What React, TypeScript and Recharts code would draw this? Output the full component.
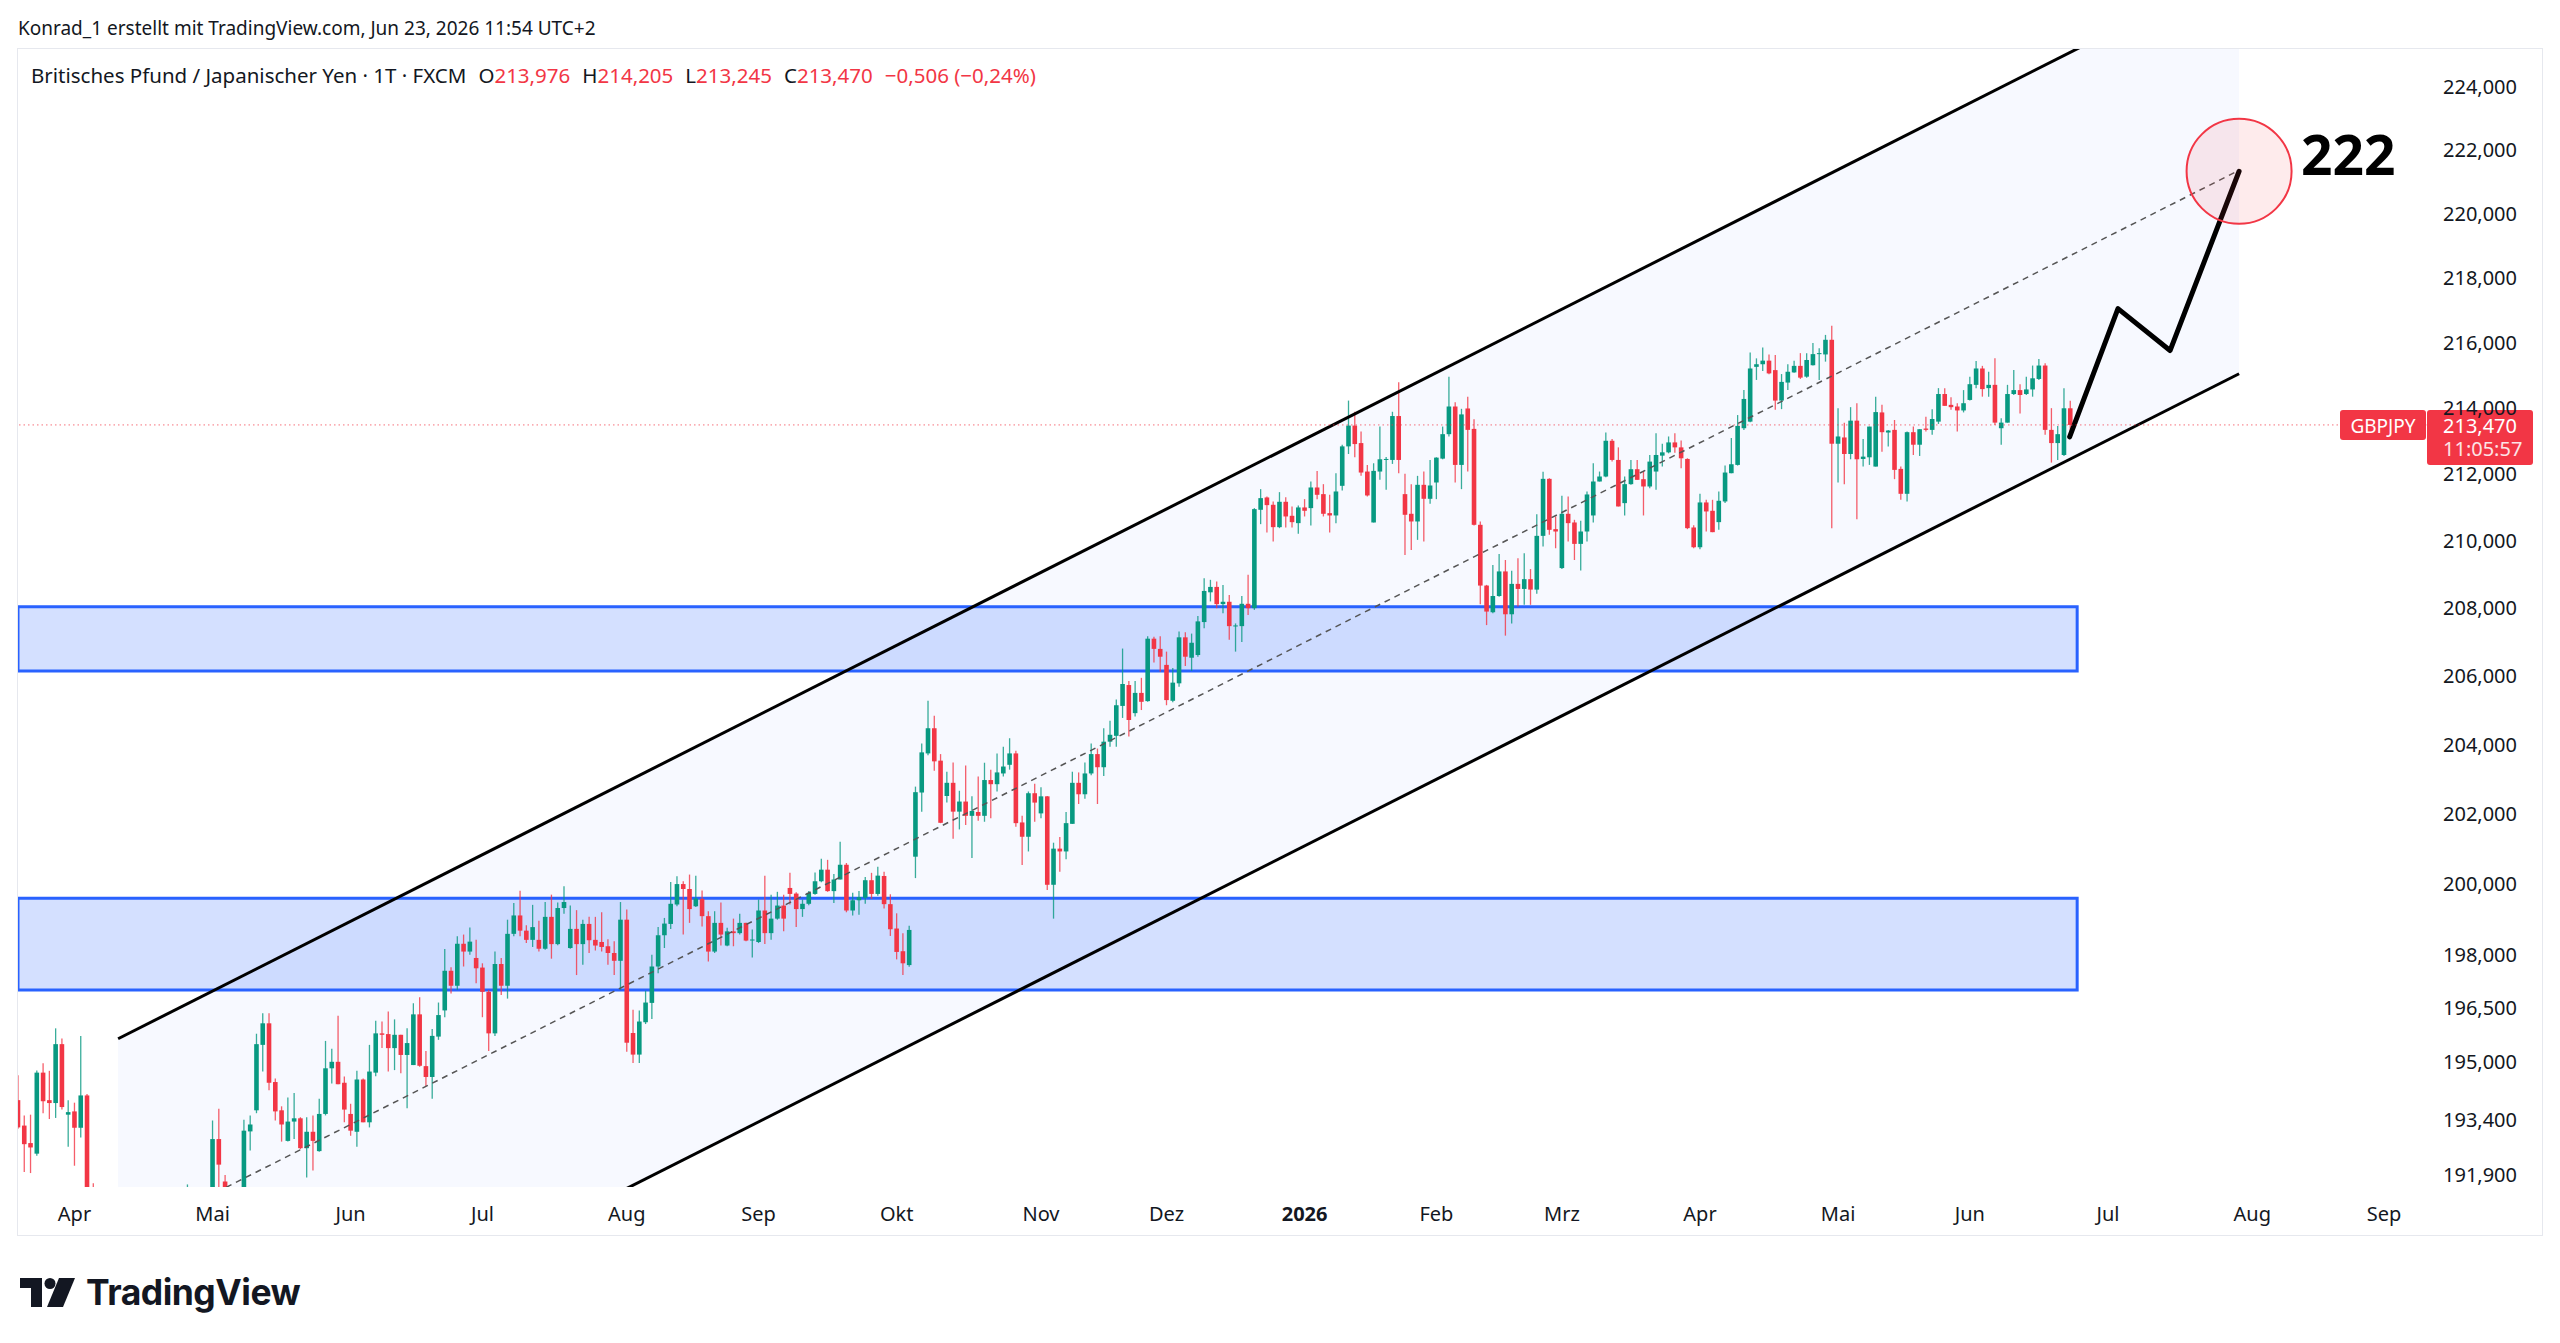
import React from 'react';
import { Area, Bar, ComposedChart, Line, ReferenceArea, ReferenceDot, ReferenceLine, XAxis, YAxis } from 'recharts';

// daily GBPJPY candles [open, high, low, close], first bar = 19 Mar 2025
const ohlc: [number, number, number, number][] = [
  [193.93, 194.62, 193.14, 193.18], [193.23, 193.51, 191.96, 192.72], [192.75, 193.53, 191.93, 192.63], [192.46, 194.75, 192.4, 194.69],
  [194.69, 194.95, 193.57, 193.9], [193.93, 194.74, 193.41, 193.85], [193.85, 195.92, 193.44, 195.48], [195.48, 195.64, 193.67, 193.74],
  [193.53, 193.93, 192.65, 193.6], [193.62, 193.86, 192.13, 193.17], [193.17, 195.71, 192.9, 194.06], [194.06, 194.1, 190.3, 191.0],
  [191.0, 191.65, 188.3, 188.6], [188.3, 189.8, 185.6, 188.9], [188.9, 191.3, 188.6, 189.8], [189.8, 190.6, 184.4, 189.0],
  [189.0, 189.5, 186.2, 187.4], [187.4, 189.0, 186.6, 188.2], [188.2, 189.6, 187.6, 189.2], [189.2, 190.4, 188.9, 189.6],
  [189.6, 190.0, 187.8, 188.0], [188.0, 189.4, 187.7, 188.9], [188.9, 189.2, 188.3, 188.6], [188.6, 188.9, 187.0, 187.6],
  [187.6, 188.9, 187.2, 188.6], [188.6, 190.6, 188.4, 190.6], [190.6, 191.0, 189.3, 190.2], [190.2, 191.62, 189.9, 191.0],
  [191.0, 191.4, 190.2, 190.5], [190.5, 191.0, 189.6, 190.1], [190.1, 191.3, 189.8, 191.1], [191.1, 193.37, 190.9, 192.86],
  [192.86, 193.69, 191.3, 192.16], [191.7, 191.88, 190.6, 190.9], [190.9, 191.4, 189.9, 190.4], [190.4, 191.3, 190.0, 191.0],
  [191.0, 193.39, 190.8, 193.09], [193.07, 193.51, 192.55, 193.26], [193.65, 195.77, 193.57, 195.48], [195.46, 196.34, 194.72, 196.06],
  [196.06, 196.34, 194.2, 194.41], [194.43, 194.53, 193.37, 193.62], [193.65, 193.76, 192.79, 193.26], [192.81, 194.0, 192.79, 193.34],
  [193.34, 194.13, 192.86, 193.43], [193.43, 193.46, 192.58, 192.61], [192.61, 193.46, 191.81, 193.06], [193.06, 193.51, 192.0, 192.81],
  [192.53, 193.97, 192.51, 193.55], [193.55, 195.57, 193.51, 194.81], [194.81, 195.35, 194.39, 194.99], [194.99, 196.27, 194.37, 194.37],
  [194.41, 194.58, 193.32, 193.67], [193.55, 193.83, 192.95, 193.09], [193.06, 194.74, 192.65, 194.5], [194.5, 194.53, 193.32, 193.32],
  [193.32, 195.46, 193.18, 194.72], [194.69, 196.13, 194.59, 195.78], [195.78, 196.11, 195.37, 195.74], [195.76, 196.39, 194.72, 195.37],
  [195.37, 196.17, 194.76, 195.74], [195.74, 195.74, 194.67, 195.18], [195.18, 195.92, 193.71, 195.51], [194.9, 196.62, 194.9, 196.31],
  [196.31, 196.79, 194.85, 194.88], [194.87, 195.29, 194.32, 194.57], [194.57, 195.9, 193.97, 195.71], [195.69, 196.64, 195.6, 196.29],
  [196.42, 198.14, 196.23, 197.53], [197.53, 197.63, 196.89, 197.11], [197.11, 198.5, 196.99, 198.29], [198.29, 198.55, 197.65, 198.07],
  [198.07, 198.75, 197.98, 198.35], [197.89, 198.4, 197.18, 197.6], [197.62, 197.74, 196.23, 196.94], [196.94, 196.99, 195.29, 195.78],
  [195.78, 198.07, 195.71, 197.72], [197.72, 197.89, 196.85, 197.11], [197.11, 198.97, 196.75, 198.57], [198.57, 199.44, 198.5, 199.09],
  [199.09, 199.79, 198.5, 198.66], [198.66, 198.81, 198.31, 198.4], [198.4, 199.39, 198.2, 198.76], [198.4, 198.94, 198.07, 198.15],
  [198.15, 199.47, 198.12, 199.05], [199.05, 199.68, 197.87, 198.28], [198.28, 199.46, 198.25, 199.3], [199.3, 199.92, 199.14, 199.47],
  [198.17, 199.37, 198.15, 198.71], [198.71, 199.24, 197.41, 198.28], [198.28, 198.97, 197.7, 198.85], [198.85, 199.05, 198.03, 198.39],
  [198.4, 199.05, 198.1, 198.24], [198.34, 199.18, 198.07, 198.2], [198.22, 198.42, 197.7, 198.03], [198.03, 198.36, 197.41, 197.81],
  [197.81, 199.47, 196.99, 198.97], [198.97, 199.26, 195.27, 195.52], [195.79, 196.44, 194.96, 195.19], [195.19, 196.42, 194.96, 196.11],
  [196.09, 196.97, 196.04, 196.64], [196.63, 197.98, 196.18, 197.65], [197.65, 198.76, 197.46, 198.53], [198.53, 199.02, 198.17, 198.86],
  [198.85, 200.04, 198.71, 199.42], [199.4, 200.2, 199.35, 199.98], [199.98, 200.06, 198.55, 199.84], [199.84, 200.25, 198.88, 199.27],
  [199.35, 200.22, 199.33, 199.57], [199.56, 199.8, 198.78, 199.07], [199.07, 199.21, 197.79, 198.07], [198.07, 199.21, 198.03, 198.88],
  [198.88, 199.46, 198.24, 198.55], [198.24, 198.74, 198.22, 198.64], [198.64, 199.0, 198.22, 198.59], [198.59, 199.14, 198.55, 198.88],
  [198.88, 198.88, 198.36, 198.38], [198.39, 198.69, 197.9, 198.41], [198.34, 199.54, 198.31, 199.23], [199.23, 200.22, 198.28, 198.59],
  [198.59, 199.68, 198.4, 199.0], [199.0, 199.76, 198.97, 199.37], [199.37, 199.68, 198.64, 199.0], [199.87, 200.3, 199.4, 199.7],
  [199.71, 199.75, 198.76, 199.27], [199.27, 199.54, 199.05, 199.42], [199.42, 199.78, 199.38, 199.73], [199.7, 200.31, 199.68, 200.06],
  [200.06, 200.7, 200.03, 200.39], [200.39, 200.67, 199.76, 199.78], [199.78, 200.27, 199.44, 200.11], [200.11, 201.19, 200.11, 200.53],
  [200.53, 200.58, 199.18, 199.23], [199.23, 199.73, 199.09, 199.52], [199.52, 199.78, 199.11, 199.61], [199.59, 200.18, 199.42, 200.09],
  [200.09, 200.3, 199.56, 199.7], [199.7, 200.47, 199.65, 200.22], [200.21, 200.33, 199.29, 199.41], [199.41, 199.69, 198.51, 198.7],
  [198.72, 199.15, 197.85, 198.06], [198.08, 198.59, 197.41, 197.74], [197.69, 198.8, 197.64, 198.68], [200.76, 202.77, 200.15, 202.61],
  [202.6, 204.02, 202.05, 203.76], [203.73, 205.26, 203.68, 204.46], [204.46, 204.82, 203.23, 203.5], [203.52, 203.71, 201.72, 201.73],
  [202.5, 203.2, 202.31, 202.88], [202.88, 203.47, 201.27, 202.05], [202.05, 202.65, 201.54, 202.34], [202.34, 203.38, 201.67, 201.93],
  [201.93, 202.49, 200.72, 202.07], [202.04, 203.06, 201.79, 201.93], [201.93, 203.46, 201.76, 202.96], [202.96, 203.26, 201.86, 202.84],
  [202.84, 203.73, 202.63, 203.18], [203.15, 203.92, 203.06, 203.35], [203.4, 204.17, 203.26, 203.73], [203.73, 203.81, 201.62, 201.72],
  [201.74, 201.93, 200.52, 201.33], [201.33, 202.63, 200.91, 202.58], [202.58, 202.85, 201.76, 202.31], [202.0, 202.75, 201.86, 202.49],
  [202.49, 202.5, 199.81, 199.96], [199.96, 201.16, 199.0, 200.99], [200.99, 201.32, 200.33, 200.91], [200.91, 202.04, 200.69, 201.72],
  [201.7, 203.2, 201.7, 202.88], [202.88, 203.18, 202.27, 202.55], [202.55, 203.47, 202.42, 203.15], [203.15, 204.02, 203.1, 203.71],
  [203.71, 203.87, 202.27, 203.33], [203.33, 204.46, 203.08, 204.07], [204.07, 204.68, 203.92, 204.27], [204.24, 205.3, 203.92, 205.13],
  [205.11, 206.79, 204.76, 205.75], [205.72, 205.84, 204.22, 204.7], [204.9, 205.84, 204.8, 205.49], [205.49, 205.93, 204.99, 205.23],
  [205.25, 207.15, 205.23, 207.08], [207.08, 207.14, 206.38, 206.78], [206.78, 207.15, 206.11, 206.55], [206.31, 206.7, 205.13, 205.28],
  [205.26, 206.22, 205.22, 205.79], [205.77, 207.29, 205.67, 207.12], [207.12, 207.27, 206.28, 206.55], [206.52, 207.23, 206.13, 206.96],
  [206.6, 207.75, 206.55, 207.59], [207.57, 208.87, 207.39, 208.49], [208.45, 208.82, 208.18, 208.61], [208.61, 208.77, 207.98, 208.1],
  [208.1, 208.67, 207.83, 208.17], [208.17, 208.37, 207.05, 207.45], [207.45, 207.53, 206.7, 207.47], [207.45, 208.34, 206.98, 208.11],
  [208.11, 208.97, 207.78, 207.98], [207.98, 210.96, 207.93, 210.93], [210.91, 211.53, 210.48, 211.26], [211.28, 211.31, 210.23, 211.05],
  [211.06, 211.16, 209.96, 210.39], [210.39, 211.44, 210.36, 211.15], [211.15, 211.29, 210.38, 210.71], [210.73, 211.01, 210.38, 210.54],
  [210.51, 211.04, 210.19, 210.98], [210.98, 211.23, 210.71, 210.88], [210.96, 211.76, 210.44, 211.58], [211.58, 212.08, 211.23, 211.36],
  [211.38, 211.68, 210.71, 210.79], [210.81, 211.36, 210.23, 210.74], [210.74, 212.01, 210.51, 211.46], [211.63, 212.87, 211.49, 212.82],
  [212.82, 214.21, 212.59, 213.45], [213.45, 213.87, 212.49, 212.89], [212.92, 213.27, 211.93, 212.03], [212.06, 212.26, 211.31, 211.34],
  [210.53, 212.31, 210.53, 212.08], [212.06, 213.42, 211.81, 212.43], [212.43, 212.5, 211.51, 212.44], [212.41, 213.87, 212.29, 213.74],
  [213.74, 214.77, 212.01, 212.41], [211.38, 211.99, 209.56, 210.76], [210.79, 211.68, 209.71, 210.56], [210.56, 211.93, 210.01, 211.66],
  [211.66, 212.06, 209.96, 211.24], [211.24, 212.41, 211.09, 211.64], [211.73, 212.49, 211.23, 212.48], [212.45, 213.42, 212.43, 213.19],
  [213.19, 214.94, 213.12, 214.03], [214.03, 214.16, 211.73, 212.26], [212.26, 213.96, 211.53, 213.79], [213.97, 214.33, 212.06, 213.32],
  [213.35, 213.64, 210.44, 210.46], [210.46, 210.56, 208.1, 208.65], [208.65, 208.67, 207.48, 207.88], [207.86, 209.26, 207.83, 208.34],
  [208.34, 209.59, 208.32, 209.07], [209.07, 209.41, 207.17, 207.8], [207.8, 209.09, 207.53, 208.7], [208.7, 209.46, 208.03, 208.55],
  [208.55, 209.61, 208.08, 208.84], [208.84, 209.14, 208.08, 208.53], [208.53, 210.78, 208.41, 210.13], [210.13, 212.05, 209.81, 211.84],
  [211.84, 211.86, 210.16, 210.31], [210.33, 210.71, 209.76, 210.26], [209.17, 211.33, 209.14, 210.79], [210.79, 211.31, 209.96, 210.51],
  [210.53, 210.61, 209.41, 209.89], [209.89, 210.58, 209.1, 210.26], [210.26, 211.46, 209.96, 211.37], [210.74, 212.31, 210.53, 211.76],
  [211.76, 212.06, 211.76, 211.91], [211.91, 213.24, 211.89, 212.99], [212.99, 213.04, 212.36, 212.41], [212.41, 212.79, 211.01, 211.01],
  [211.11, 211.91, 210.74, 211.68], [211.68, 212.41, 211.66, 212.13], [212.13, 212.41, 211.81, 211.81], [211.83, 212.08, 210.74, 211.61],
  [211.61, 212.56, 211.56, 212.36], [212.06, 213.22, 211.51, 212.56], [212.54, 212.9, 212.21, 212.64], [212.64, 213.12, 212.61, 212.94],
  [212.94, 213.22, 212.63, 212.79], [212.79, 213.0, 212.16, 212.46], [212.44, 212.46, 210.33, 210.36], [210.38, 210.45, 209.76, 209.79],
  [209.79, 211.39, 209.73, 211.13], [211.13, 211.21, 210.26, 210.86], [210.88, 211.21, 210.24, 210.24], [210.54, 211.46, 210.31, 211.18],
  [211.16, 212.24, 211.11, 212.03], [212.01, 213.07, 212.01, 212.28], [212.26, 213.77, 212.24, 213.44], [213.37, 214.53, 213.32, 214.26],
  [213.57, 215.68, 213.55, 215.19], [215.24, 215.5, 214.84, 215.32], [215.32, 215.83, 215.11, 215.43], [215.43, 215.62, 215.01, 215.04],
  [215.14, 215.6, 213.93, 214.21], [214.21, 215.02, 213.95, 214.78], [214.76, 215.32, 214.53, 215.09], [215.07, 215.43, 215.06, 215.27],
  [215.27, 215.66, 214.87, 214.91], [214.94, 215.66, 214.91, 215.45], [215.29, 215.97, 215.28, 215.63], [215.63, 215.81, 214.84, 215.66],
  [215.62, 216.22, 215.4, 216.07], [216.07, 216.5, 210.36, 212.9], [212.9, 213.98, 211.73, 213.12], [213.09, 213.54, 211.68, 212.59],
  [212.59, 214.01, 212.43, 213.6], [213.6, 214.13, 210.63, 212.43], [212.44, 213.04, 212.21, 212.51], [212.49, 213.42, 212.26, 213.42],
  [212.21, 214.33, 212.21, 213.86], [213.85, 214.08, 212.66, 213.25], [213.24, 213.32, 212.82, 213.3], [213.32, 213.62, 211.83, 212.11],
  [212.14, 212.21, 211.21, 211.39], [211.39, 213.27, 211.16, 213.25], [213.25, 213.42, 212.56, 212.87], [212.87, 213.34, 212.53, 213.34],
  [213.36, 213.72, 213.27, 213.32], [213.32, 213.95, 213.17, 213.65], [213.57, 214.59, 213.5, 214.41], [214.41, 214.59, 214.05, 214.05],
  [214.08, 214.31, 213.93, 214.01], [214.03, 214.13, 213.27, 213.91], [213.91, 214.53, 213.85, 214.13], [214.23, 214.94, 214.21, 214.71],
  [214.69, 215.42, 214.59, 215.19], [215.19, 215.27, 214.33, 214.56], [214.59, 215.09, 214.33, 214.69], [214.69, 215.5, 213.47, 213.54],
  [213.37, 213.67, 212.87, 213.54], [213.54, 214.69, 213.54, 214.41], [214.41, 215.14, 214.38, 214.53], [214.53, 214.71, 213.82, 214.38],
  [214.41, 214.94, 214.38, 214.55], [214.55, 215.28, 214.33, 214.89], [214.87, 215.48, 214.84, 215.28], [215.28, 215.35, 213.17, 213.32],
  [213.32, 213.98, 212.33, 212.92], [212.92, 213.44, 212.41, 213.19], [212.56, 214.59, 212.53, 213.976], [213.976, 214.205, 213.245, 213.47],
];

// month ticks: bar index of the first trading day + label
const monthTicks = [9, 31, 53, 74, 97, 118, 140, 163, 183, 205, 226, 246, 268, 290, 311, 333, 356, 377];
const monthLabels = ['Apr', 'Mai', 'Jun', 'Jul', 'Aug', 'Sep', 'Okt', 'Nov', 'Dez', '2026', 'Feb', 'Mrz', 'Apr', 'Mai', 'Jun', 'Jul', 'Aug', 'Sep'];
const priceTicks = [191.9, 193.4, 195, 196.5, 198, 200, 202, 204, 206, 208, 210, 212, 214, 216, 218, 220, 222, 224];

// drawings (bar index / price)
const channelIdx = [15.95, 353.9];
const channelUpper = [195.63, 227.83];
const channelLower = [184.64, 215.03];
const channelMid = [190.06, 221.34];
const zoneUpper = [206.13, 208.02];
const zoneLower = [196.99, 199.58];
const zoneEndIdx = 328.1;
const pathIdx = [326.9, 334.6, 342.9, 353.9];
const pathPrice = [213.11, 217.03, 215.74, 221.31];
const target = { i: 353.9, v: 221.31, label: '222' };
const change = '−0,506 (−0,24%)';

const UP = '#089981';
const DOWN = '#f23645';
const FONT = "'Noto Sans', sans-serif";
const TEXT = '#131722';

const fmt = (v: number) => v.toFixed(3).replace('.', ',');

const data = ohlc.map(([o, h, l, c], i) => ({ i, o, h, l, c, range: [l, h] }));
const bandData = channelIdx.map((i, k) => ({ i, band: [channelLower[k], channelUpper[k]] }));
const upperData = channelIdx.map((i, k) => ({ i, v: channelUpper[k] }));
const lowerData = channelIdx.map((i, k) => ({ i, v: channelLower[k] }));
const midData = channelIdx.map((i, k) => ({ i, v: channelMid[k] }));
const pathData = pathIdx.map((i, k) => ({ i, v: pathPrice[k] }));
const last = ohlc[ohlc.length - 1];

function Candle(props: any) {
  const { x, y, width, height, payload } = props;
  if (!payload || x == null || y == null) return null;
  const { o, h, l, c } = payload;
  const cx = x + width / 2;
  const lh = Math.log(h);
  const span = lh - Math.log(l);
  const py = (v: number) => (span > 0 ? y + (height * (lh - Math.log(v))) / span : y);
  const col = c >= o ? UP : DOWN;
  const top = py(Math.max(o, c));
  const bh = Math.max(1, py(Math.min(o, c)) - top);
  return (
    <g>
      <line x1={cx} x2={cx} y1={y} y2={y + height} stroke={col} strokeWidth={1.3} strokeOpacity={0.8} />
      <rect x={cx - 2.3} y={top} width={4.6} height={bh} fill={col} />
    </g>
  );
}

function XTick(props: any) {
  const { x, y, payload } = props;
  const label = monthLabels[monthTicks.indexOf(payload.value)] ?? '';
  return (
    <text x={x} y={y + 26} textAnchor="middle" dominantBaseline="central" fontSize={20} fontFamily={FONT}
      fontWeight={label === '2026' ? 700 : 400} fill={TEXT}>
      {label}
    </text>
  );
}

function YTick(props: any) {
  const { x, y, payload } = props;
  return (
    <text x={x + 15} y={y} dominantBaseline="central" fontSize={20} fontFamily={FONT} fill={TEXT}>
      {fmt(payload.value)}
    </text>
  );
}

function PriceTag(props: any) {
  const vb = props.viewBox;
  if (!vb) return null;
  const right = vb.x + vb.width;
  const cy = vb.y;
  return (
    <g fontFamily={FONT}>
      <rect x={right - 88} y={cy - 15} width={86} height={30} rx={3} fill={DOWN} />
      <text x={right - 45} y={cy + 1} textAnchor="middle" dominantBaseline="central" fontSize={19} fill="#fff">GBPJPY</text>
      <rect x={right - 1} y={cy - 15} width={106} height={55} rx={3} fill={DOWN} />
      <text x={right + 15} y={cy + 1} dominantBaseline="central" fontSize={20} fill="#fff">{fmt(last[3])}</text>
      <text x={right + 15} y={cy + 24} dominantBaseline="central" fontSize={20} fill="#fce4e6">11:05:57</text>
    </g>
  );
}

function Target(props: any) {
  const { cx, cy } = props;
  if (cx == null) return null;
  return (
    <g>
      <circle cx={cx} cy={cy} r={52.5} fill={DOWN} fillOpacity={0.1} stroke={DOWN} strokeWidth={2} />
      <text x={cx + 62} y={cy + 4} fontSize={55} fontWeight={700} fontFamily={FONT} fill="#000">{target.label}</text>
    </g>
  );
}

function Logo() {
  return (
    <div style={{ position: 'absolute', left: 20, top: 1271, display: 'flex', alignItems: 'center', gap: 11 }}>
      <svg width={55} height={29} viewBox="0 0 55 29">
        <path d="M0 0H22V29H11V10H0Z" fill="#131722" />
        <circle cx={30} cy={5.5} r={5.5} fill="#131722" />
        <path d="M39 0H55L43 29H27Z" fill="#131722" />
      </svg>
      <span style={{ fontFamily: 'Inter, sans-serif', fontWeight: 700, fontSize: 35.5, letterSpacing: -0.5, color: '#131722' }}>
        TradingView
      </span>
    </div>
  );
}

export default function App() {
  const ohlcLabel = (k: string, v: number) => (
    <span style={{ marginLeft: 12 }}>
      {k}<span style={{ color: DOWN }}>{fmt(v)}</span>
    </span>
  );
  return (
    <div style={{ position: 'absolute', left: 0, top: 0, width: 2560, height: 1343, background: '#fff', fontFamily: FONT, color: TEXT }}>
      <div style={{ position: 'absolute', left: 18, top: 15, fontSize: 19, lineHeight: '26px' }}>
        Konrad_1 erstellt mit TradingView.com, Jun 23, 2026 11:54 UTC+2
      </div>
      <div style={{ position: 'absolute', left: 17, top: 48, width: 2524, height: 1186, border: '1.5px solid #e6e8ee' }} />
      <div style={{ position: 'absolute', left: 18, top: 49 }}>
        <ComposedChart width={2525} height={1187} data={data} margin={{ top: 0, right: 0, bottom: 0, left: 0 }}>
          <XAxis dataKey="i" type="number" domain={[0, 384]} allowDataOverflow ticks={monthTicks} interval={0}
            axisLine={false} tickLine={false} tickSize={0} tickMargin={0} height={49} tick={<XTick />} />
          <YAxis orientation="right" scale="log" domain={[191.55, 225.19]} allowDataOverflow ticks={priceTicks}
            axisLine={false} tickLine={false} tickSize={0} tickMargin={0} width={115} tick={<YTick />} />
          <Area data={bandData} dataKey="band" type="linear" stroke="none" fill="#2962ff" fillOpacity={0.035}
            dot={false} activeDot={false} isAnimationActive={false} />
          <ReferenceArea x1={0} x2={zoneEndIdx} y1={zoneUpper[0]} y2={zoneUpper[1]} fill="#2962ff" fillOpacity={0.2}
            stroke="#2962ff" strokeWidth={3} ifOverflow="hidden" />
          <ReferenceArea x1={0} x2={zoneEndIdx} y1={zoneLower[0]} y2={zoneLower[1]} fill="#2962ff" fillOpacity={0.2}
            stroke="#2962ff" strokeWidth={3} ifOverflow="hidden" />
          <Line data={midData} dataKey="v" type="linear" stroke="#555" strokeWidth={1.5} strokeDasharray="6 5"
            dot={false} activeDot={false} isAnimationActive={false} />
          <Bar dataKey="range" barSize={5} shape={(p: any) => <Candle {...p} />} isAnimationActive={false} />
          <Line data={upperData} dataKey="v" type="linear" stroke="#000" strokeWidth={3}
            dot={false} activeDot={false} isAnimationActive={false} />
          <Line data={lowerData} dataKey="v" type="linear" stroke="#000" strokeWidth={3}
            dot={false} activeDot={false} isAnimationActive={false} />
          <Line data={pathData} dataKey="v" type="linear" stroke="#000" strokeWidth={5} strokeLinejoin="round"
            strokeLinecap="round" dot={false} activeDot={false} isAnimationActive={false} />
          <ReferenceLine y={last[3]} stroke={DOWN} strokeOpacity={0.7} strokeDasharray="1.5 3" label={<PriceTag />} />
          <ReferenceDot x={target.i} y={target.v} r={52.5} shape={(p: any) => <Target {...p} />} />
        </ComposedChart>
      </div>
      <div style={{ position: 'absolute', left: 31, top: 62, fontSize: 20.5, lineHeight: '26px', whiteSpace: 'nowrap' }}>
        Britisches Pfund / Japanischer Yen · 1T · FXCM
        {ohlcLabel('O', last[0])}
        {ohlcLabel('H', last[1])}
        {ohlcLabel('L', last[2])}
        {ohlcLabel('C', last[3])}
        <span style={{ marginLeft: 12, color: DOWN }}>{change}</span>
      </div>
      <Logo />
    </div>
  );
}
